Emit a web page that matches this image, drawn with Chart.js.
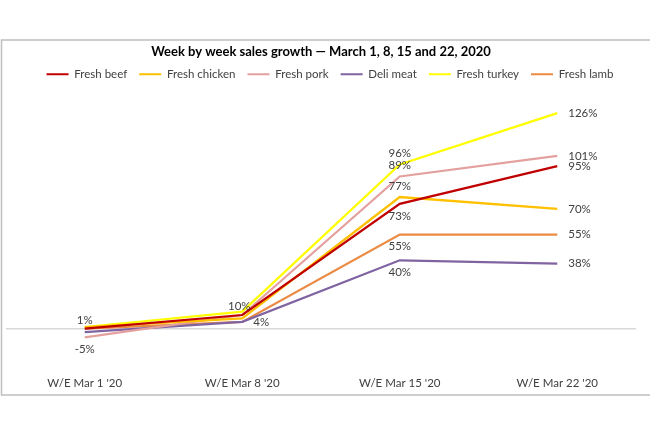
<!DOCTYPE html>
<html>
<head>
<meta charset="utf-8">
<script src="https://cdn.jsdelivr.net/npm/chart.js@4.4.1/dist/chart.umd.min.js"></script>
<style>
  html, body { margin: 0; padding: 0; background: #fff; }
  #wrap { width: 650px; height: 433px; position: relative; }
</style>
</head>
<body>
<div id="wrap"><canvas id="salesChart" width="650" height="433"></canvas></div>
<script>
// Data (% growth vs last year)
const weeks = ["W/E Mar 1 '20", "W/E Mar 8 '20", "W/E Mar 15 '20", "W/E Mar 22 '20"];
const seriesNames = ["Fresh beef", "Fresh chicken", "Fresh pork", "Deli meat", "Fresh turkey", "Fresh lamb"];
const freshBeef = [0, 8, 73, 95];
const freshChicken = [1, 6, 77, 70];
const freshPork = [-5, 8, 89, 101];
const deliMeat = [-2, 4, 40, 38];
const freshTurkey = [1, 10, 96, 126];
const freshLamb = [0, 4, 55, 55];

const colors = ["#C00000", "#FFC000", "#E3A09E", "#8064A2", "#FFFF00", "#EB8A42"];

// which points carry a value label, and where (null = no label)
const labelSpots = [
  [null, null, "below", "right"],
  [null, null, "above", "right"],
  ["below", null, "above", "right"],
  [null, "right", "below", "right"],
  ["above", "aboveLeft", "above", "right"],
  [null, null, "below", "right"]
];

const allValues = [freshBeef, freshChicken, freshPork, deliMeat, freshTurkey, freshLamb];
const FONT = "Lato, 'Liberation Sans', sans-serif";

// Frame around the chart
const framePlugin = {
  id: "frame",
  beforeDraw(chart) {
    const ctx = chart.ctx;
    ctx.save();
    ctx.strokeStyle = "#BFBFBF";
    ctx.lineWidth = 1.5;
    ctx.strokeRect(1.5, 40, 660, 355);
    ctx.restore();
  }
};

// nudge the legend a bit to the right, like the original
const legendShift = {
  id: "legendShift",
  afterLayout(chart) {
    chart.legend.left += 9;
    chart.legend.right += 9;
  }
};

// Value labels next to points
const valueLabels = {
  id: "valueLabels",
  afterDatasetsDraw(chart) {
    const ctx = chart.ctx;
    ctx.save();
    ctx.font = "11.5px " + FONT;
    ctx.fillStyle = "#404040";
    ctx.textBaseline = "middle";
    chart.data.datasets.forEach((ds, i) => {
      const meta = chart.getDatasetMeta(i);
      meta.data.forEach((pt, j) => {
        const spot = labelSpots[i][j];
        if (!spot) return;
        const txt = ds.data[j] + "%";
        let x = pt.x, y = pt.y;
        ctx.textAlign = "center";
        if (spot === "above") y -= 11;
        else if (spot === "below") y += 12;
        else if (spot === "aboveLeft") { y -= 5; x -= 3; }
        else if (spot === "right") { x += 11; ctx.textAlign = "left"; }
        if (j === 0 && spot === "above") y += 4;
        ctx.fillText(txt, x, y);
      });
    });
    ctx.restore();
  }
};

new Chart(document.getElementById("salesChart"), {
  type: "line",
  data: {
    labels: weeks,
    datasets: seriesNames.map((name, i) => ({
      label: name,
      data: allValues[i],
      borderColor: colors[i],
      backgroundColor: colors[i],
      borderWidth: 2.25,
      pointRadius: 0,
      tension: 0
    }))
  },
  options: {
    responsive: false,
    animation: false,
    layout: { padding: { top: 37, bottom: 42, left: 6, right: 14 } },
    plugins: {
      title: {
        display: true,
        text: "Week by week sales growth \u2014 March 1, 8, 15 and 22, 2020",
        color: "#000",
        font: { family: FONT, size: 13, weight: "bold" },
        padding: { top: 7, bottom: -3 }
      },
      legend: {
        position: "top",
        labels: {
          color: "#404040",
          font: { family: FONT, size: 11.5 },
          boxWidth: 22,
          boxHeight: 2,
          padding: 12,
          generateLabels(chart) {
            return Chart.defaults.plugins.legend.labels.generateLabels(chart)
              .map(item => Object.assign(item, { lineWidth: 0 }));
          }
        }
      },
      tooltip: { enabled: false }
    },
    scales: {
      x: {
        offset: true,
        grid: { display: false },
        border: { display: false },
        ticks: { color: "#404040", font: { family: FONT, size: 11.5 }, padding: 1, maxRotation: 0 }
      },
      y: {
        min: -22.5,
        max: 139.5,
        ticks: { display: false },
        border: { display: false },
        grid: {
          drawTicks: false,
          color: ctx => ctx.tick.value === 0 ? "#D9D9D9" : "rgba(0,0,0,0)",
          lineWidth: 1.5
        }
      }
    }
  },
  plugins: [framePlugin, legendShift, valueLabels]
});
</script>
</body>
</html>
